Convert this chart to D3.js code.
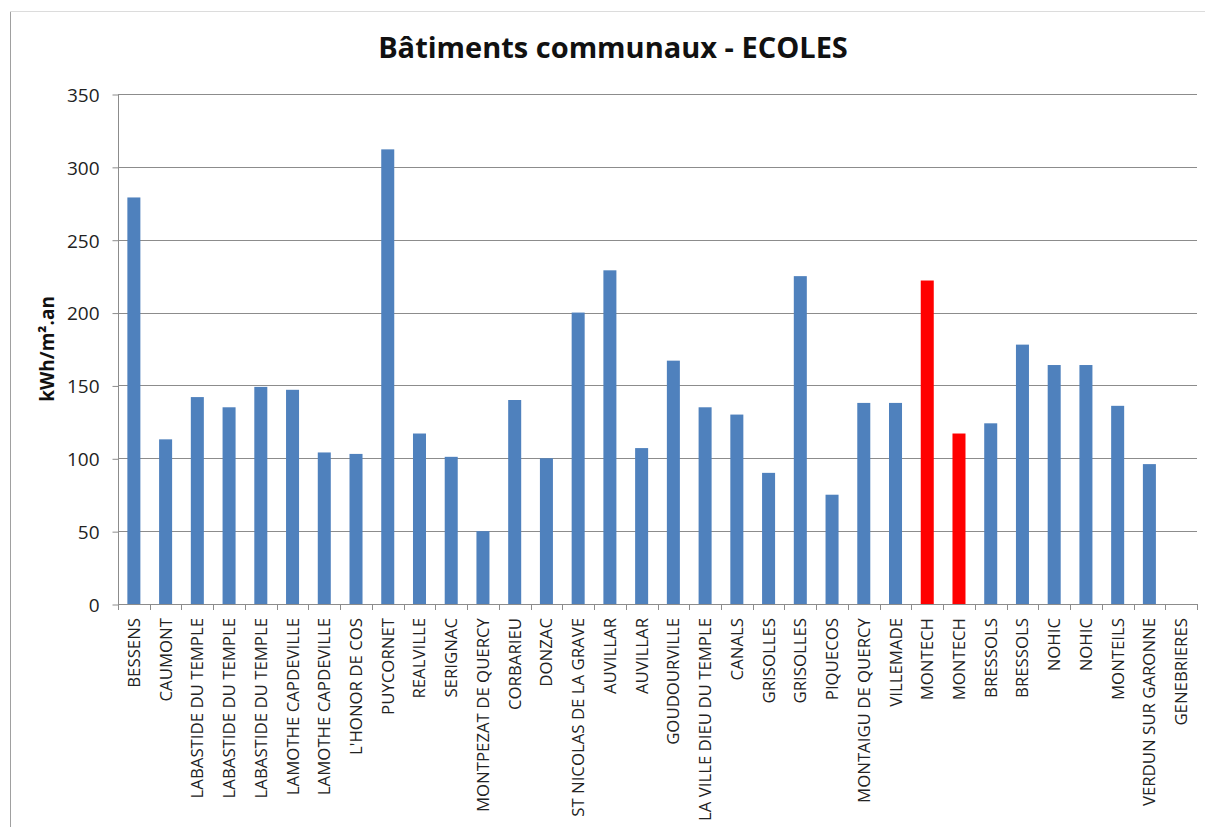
<!DOCTYPE html>
<html>
<head>
<meta charset="utf-8">
<script src="https://cdn.jsdelivr.net/npm/d3@7"></script>
<style>
  html, body { margin: 0; padding: 0; background: #fff; }
  svg { display: block; }
</style>
</head>
<body>
<svg id="chart" width="1205" height="827"></svg>
<script>
const categories = [
  "BESSENS", "CAUMONT", "LABASTIDE DU TEMPLE", "LABASTIDE DU TEMPLE", "LABASTIDE DU TEMPLE",
  "LAMOTHE CAPDEVILLE", "LAMOTHE CAPDEVILLE", "L'HONOR DE COS", "PUYCORNET", "REALVILLE",
  "SERIGNAC", "MONTPEZAT DE QUERCY", "CORBARIEU", "DONZAC", "ST NICOLAS DE LA GRAVE",
  "AUVILLAR", "AUVILLAR", "GOUDOURVILLE", "LA VILLE DIEU DU TEMPLE", "CANALS",
  "GRISOLLES", "GRISOLLES", "PIQUECOS", "MONTAIGU DE QUERCY", "VILLEMADE",
  "MONTECH", "MONTECH", "BRESSOLS", "BRESSOLS", "NOHIC",
  "NOHIC", "MONTEILS", "VERDUN SUR GARONNE", "GENEBRIERES"
];
const values = [
  279, 113, 142, 135, 149,
  147, 104, 103, 312, 117,
  101, 50, 140, 100, 200,
  229, 107, 167, 135, 130,
  90, 225, 75, 138, 138,
  222, 117, 124, 178, 164,
  164, 136, 96, 0
];
const highlighted = [25, 26];
const yTicks = [0, 50, 100, 150, 200, 250, 300, 350];
const titleText = "Bâtiments communaux - ECOLES";
const yLabel = "kWh/m².an";

const svg = d3.select("#chart");
const mLeft = 118, mRight = 1197, mTop = 94, mBottom = 604;

// chart area border
svg.append("line").attr("x1", 10.5).attr("x2", 10.5).attr("y1", 11).attr("y2", 827)
  .attr("stroke", "#a0a0a0");
svg.append("line").attr("x1", 10).attr("x2", 1205).attr("y1", 11.5).attr("y2", 11.5)
  .attr("stroke", "#dcdcdc");

const x = d3.scaleBand().domain(d3.range(categories.length)).range([mLeft, mRight])
  .paddingInner(0.59).paddingOuter(0.295);
const xb = d3.scaleBand().domain(d3.range(categories.length)).range([mLeft, mRight]);
const y = d3.scaleLinear().domain([0, 350]).range([mBottom, mTop]);

// gridlines
svg.append("g").selectAll("line").data(yTicks.filter(d => d > 0)).join("line")
  .attr("x1", mLeft).attr("x2", mRight)
  .attr("y1", d => Math.round(y(d)) + 0.5).attr("y2", d => Math.round(y(d)) + 0.5)
  .attr("stroke", "#8c8c8c").attr("stroke-width", 1);

// bars
svg.append("g").selectAll("rect").data(values).join("rect")
  .attr("x", (d, i) => x(i))
  .attr("width", x.bandwidth())
  .attr("y", d => y(d))
  .attr("height", d => mBottom - y(d))
  .attr("fill", (d, i) => highlighted.includes(i) ? "#FF0000" : "#4F81BD");

// y axis
const yAxis = d3.axisLeft(y).tickValues(yTicks).tickSize(6).tickPadding(13);
const gy = svg.append("g").attr("transform", `translate(${mLeft + 0.5},0.5)`).call(yAxis);
gy.select(".domain").attr("stroke", "#8c8c8c").attr("d", `M0,${mTop}V${mBottom}`);
gy.selectAll(".tick line").attr("stroke", "#8c8c8c");
gy.selectAll(".tick text").attr("fill", "#222").style("font-family", "'Open Sans', sans-serif")
  .style("font-size", "19px").attr("dy", "0.36em");

// x axis with ticks at category boundaries
svg.append("line").attr("x1", mLeft).attr("x2", mRight)
  .attr("y1", mBottom + 0.5).attr("y2", mBottom + 0.5).attr("stroke", "#8c8c8c");
svg.append("g").selectAll("line").data(d3.range(categories.length + 1)).join("line")
  .attr("x1", i => Math.round(mLeft + i * xb.step()) + 0.5)
  .attr("x2", i => Math.round(mLeft + i * xb.step()) + 0.5)
  .attr("y1", mBottom).attr("y2", mBottom + 6)
  .attr("stroke", "#8c8c8c");

svg.append("g").selectAll("text").data(categories).join("text")
  .attr("transform", (d, i) => `translate(${xb(i) + xb.bandwidth() / 2 + 6},${mBottom + 14}) rotate(-90)`)
  .attr("text-anchor", "end")
  .style("font-family", "'Open Sans', sans-serif")
  .style("font-size", "16.8px")
  .attr("fill", "#222")
  .text(d => d);

// title
svg.append("text").attr("x", 613).attr("y", 58).attr("text-anchor", "middle")
  .style("font-family", "'Open Sans', sans-serif").style("font-weight", "bold")
  .style("font-size", "29px").attr("fill", "#111").text(titleText);

// y label
svg.append("text").attr("transform", `translate(54,${(mTop + mBottom) / 2}) rotate(-90)`)
  .attr("text-anchor", "middle")
  .style("font-family", "'Open Sans', sans-serif").style("font-weight", "bold")
  .style("font-size", "19px").attr("fill", "#111").text(yLabel);
</script>
</body>
</html>
